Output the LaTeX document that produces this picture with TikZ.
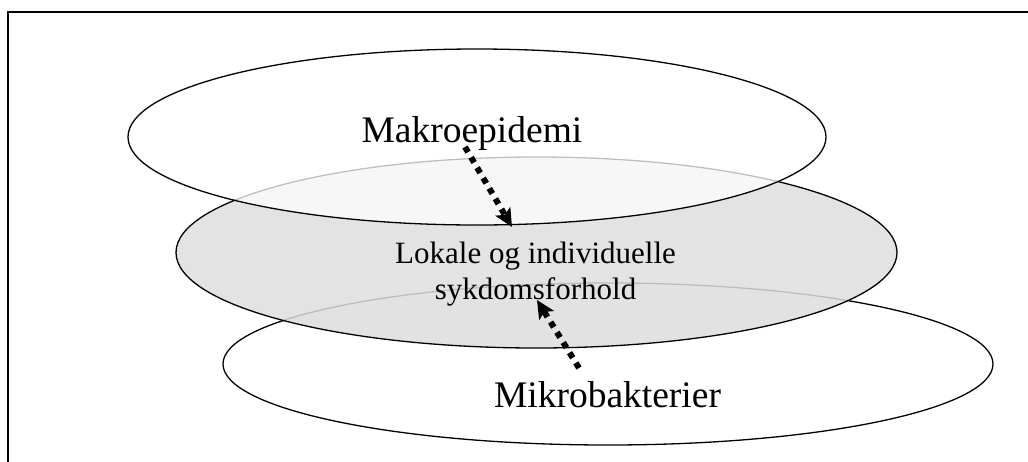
\documentclass[tikz,border=0pt]{standalone}
\usepackage{fontspec}
\setmainfont{Liberation Serif}
\usetikzlibrary{shapes.geometric,arrows.meta}
\definecolor{midgrey}{gray}{0.871}
\begin{document}
\begin{tikzpicture}[x=1pt,y=-1pt,
  oval/.style={ellipse, draw=black, line width=1.3pt, inner sep=0pt},
  link/.style={line width=6pt, dash pattern=on 6pt off 6pt,
    -{Stealth[length=18pt,width=17pt,inset=4pt]}},
  bigtext/.style={font=\fontsize{37.5}{45}\selectfont, inner sep=0pt},
  midtext/.style={font=\fontsize{31}{36}\selectfont, inner sep=0pt, align=center}]
\useasboundingbox (0,0) rectangle (1028,461);
% outer frame, running past the right and bottom edges
\begin{scope}
  \clip (0,0) rectangle (1028,461);
  \draw[line width=1.5pt] (8,12) rectangle (1040,475);
\end{scope}
% three stacked levels, lower ones showing faintly through the upper ones
\node[oval, fill=white, minimum width=770pt, minimum height=162pt] (micro) at (608,364) {};
\node[oval, fill=midgrey, fill opacity=0.85, minimum width=721pt, minimum height=191pt] (local) at (536.5,252.5) {};
\node[oval, fill=white, fill opacity=0.75, minimum width=698pt, minimum height=176pt] (macro) at (477,137) {};
% labels
\node[bigtext, anchor=base] (makro) at (472,142) {Makroepidemi};
\node[bigtext, anchor=base] (mikro) at (607.5,407) {Mikrobakterier};
\node[midtext] (lokal) at (535.5,274) {Lokale og individuelle\\sykdomsforhold};
% influences towards the local level
\coordinate (t1) at (465,147);
\coordinate (h1) at (512,227);
\coordinate (t2) at (579,368);
\coordinate (h2) at (537,300);
\draw[link] (t1) -- (h1);
\draw[link] (t2) -- (h2);
\end{tikzpicture}
\end{document}
